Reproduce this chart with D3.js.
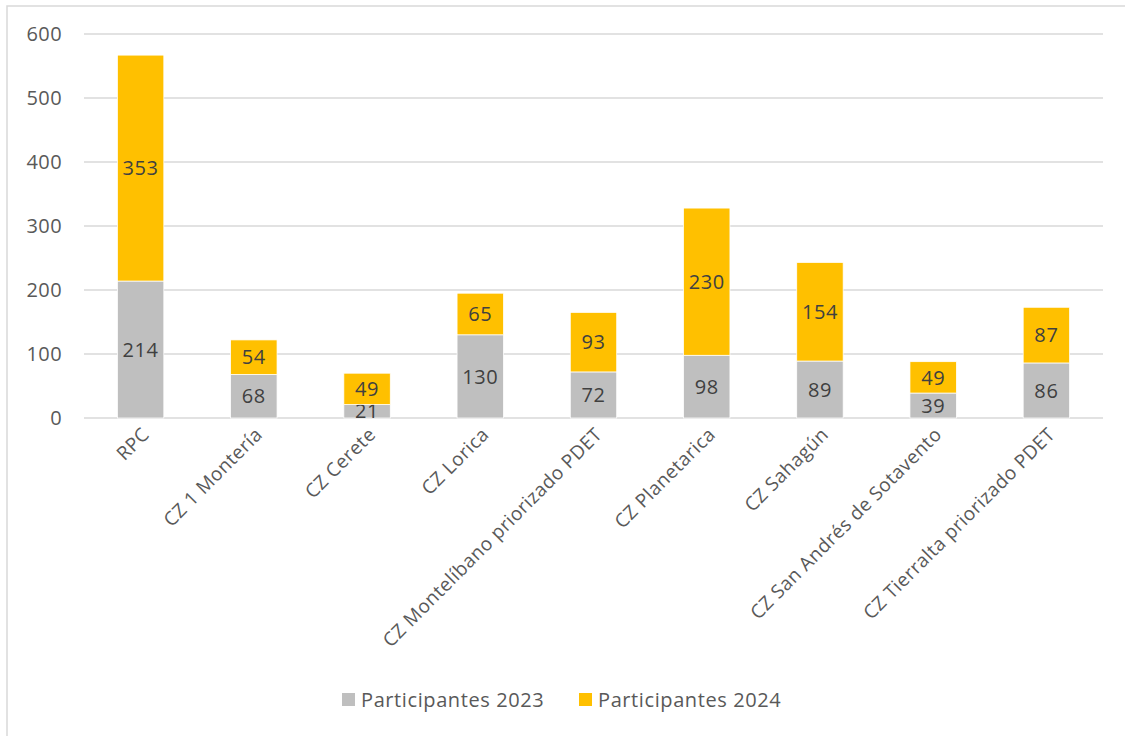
<!DOCTYPE html>
<html>
<head>
<meta charset="utf-8">
<script src="https://cdn.jsdelivr.net/npm/d3@7"></script>
<style>
  html, body { margin: 0; padding: 0; background: #ffffff; }
  svg { display: block; }
  text { font-family: "Open Sans", "Noto Sans", sans-serif; }
</style>
</head>
<body>
<svg id="chart" width="1125" height="736"></svg>
<script>
// Participants per centre, stacked by year
const categories = [
  "RPC",
  "CZ 1 Montería",
  "CZ Cerete",
  "CZ Lorica",
  "CZ Montelíbano priorizado PDET",
  "CZ Planetarica",
  "CZ Sahagún",
  "CZ San Andrés de Sotavento",
  "CZ Tierralta priorizado PDET"
];
const participantes2023 = [214, 68, 21, 130, 72, 98, 89, 39, 86];
const participantes2024 = [353, 54, 49, 65, 93, 230, 154, 49, 87];
const seriesNames = ["Participantes 2023", "Participantes 2024"];
const seriesColors = ["#BFBFBF", "#FFC000"];
const yTicks = [0, 100, 200, 300, 400, 500, 600];

const svg = d3.select("#chart");
const W = 1125, H = 736;
const margin = { left: 84, right: 22, top: 34, bottom: 318 };
const plotRight = W - margin.right;
const plotBottom = H - margin.bottom;

// Chart area frame
svg.append("rect")
  .attr("x", 7).attr("y", 6)
  .attr("width", W + 10).attr("height", H + 10)
  .attr("fill", "#ffffff")
  .attr("stroke", "#D9D9D9")
  .attr("stroke-width", 1.5);

const x = d3.scaleBand()
  .domain(categories)
  .range([margin.left, plotRight])
  .padding(0);

const y = d3.scaleLinear()
  .domain([0, 600])
  .range([plotBottom, margin.top]);

// Gridlines
svg.append("g")
  .selectAll("line")
  .data(yTicks)
  .join("line")
  .attr("x1", margin.left).attr("x2", plotRight)
  .attr("y1", d => y(d)).attr("y2", d => y(d))
  .attr("stroke", "#D9D9D9")
  .attr("stroke-width", 1.5);

// Y axis labels
const yAxis = d3.axisLeft(y).tickValues(yTicks).tickSize(0).tickPadding(0);
const yg = svg.append("g")
  .attr("transform", `translate(${margin.left - 22},0)`)
  .call(yAxis);
yg.select(".domain").remove();
yg.selectAll("text")
  .attr("fill", "#595959")
  .style("font-size", "20px")
  .style("letter-spacing", "0.4px")
  .style("font-family", "'Open Sans', sans-serif");

// Stacked bars
const rows = categories.map((c, i) => ({
  cat: c,
  [seriesNames[0]]: participantes2023[i],
  [seriesNames[1]]: participantes2024[i]
}));
const stack = d3.stack().keys(seriesNames)(rows);

const barW = x.bandwidth() * 0.41;
const layers = svg.append("g")
  .selectAll("g")
  .data(stack)
  .join("g")
  .attr("fill", (d, i) => seriesColors[i]);

layers.selectAll("rect")
  .data(d => d)
  .join("rect")
  .attr("x", d => x(d.data.cat) + (x.bandwidth() - barW) / 2)
  .attr("width", barW)
  .attr("y", d => y(d[1]))
  .attr("height", d => y(d[0]) - y(d[1]))
  .attr("stroke", "#ffffff")
  .attr("stroke-width", 0.75);

// Value labels centred in each segment
layers.selectAll("text")
  .data(d => d)
  .join("text")
  .attr("x", d => x(d.data.cat) + x.bandwidth() / 2)
  .attr("y", d => (y(d[0]) + y(d[1])) / 2)
  .attr("dy", "0.36em")
  .attr("text-anchor", "middle")
  .attr("fill", "#404040")
  .style("font-size", "20px")
  .style("letter-spacing", "0.6px")
  .text(d => d[1] - d[0]);

// Category labels, rotated
svg.append("g")
  .selectAll("text")
  .data(categories)
  .join("text")
  .attr("transform", d => `translate(${x(d) + x.bandwidth() / 2 + 5},${plotBottom + 13}) rotate(-45)`)
  .attr("text-anchor", "end")
  .attr("dy", "0.35em")
  .attr("fill", "#595959")
  .style("font-size", "19px")
  .style("letter-spacing", "0.45px")
  .text(d => d);

// Legend
const legend = svg.append("g");
const legendX = [342, 579];
seriesNames.forEach((name, i) => {
  const g = legend.append("g").attr("transform", `translate(${legendX[i]},700)`);
  g.append("rect")
    .attr("x", 0).attr("y", -7)
    .attr("width", 13).attr("height", 13)
    .attr("fill", seriesColors[i]);
  g.append("text")
    .attr("x", 19).attr("y", 0)
    .attr("dy", "0.35em")
    .attr("fill", "#595959")
    .style("font-size", "20px")
    .style("letter-spacing", "0.6px")
    .text(name);
});
</script>
</body>
</html>
